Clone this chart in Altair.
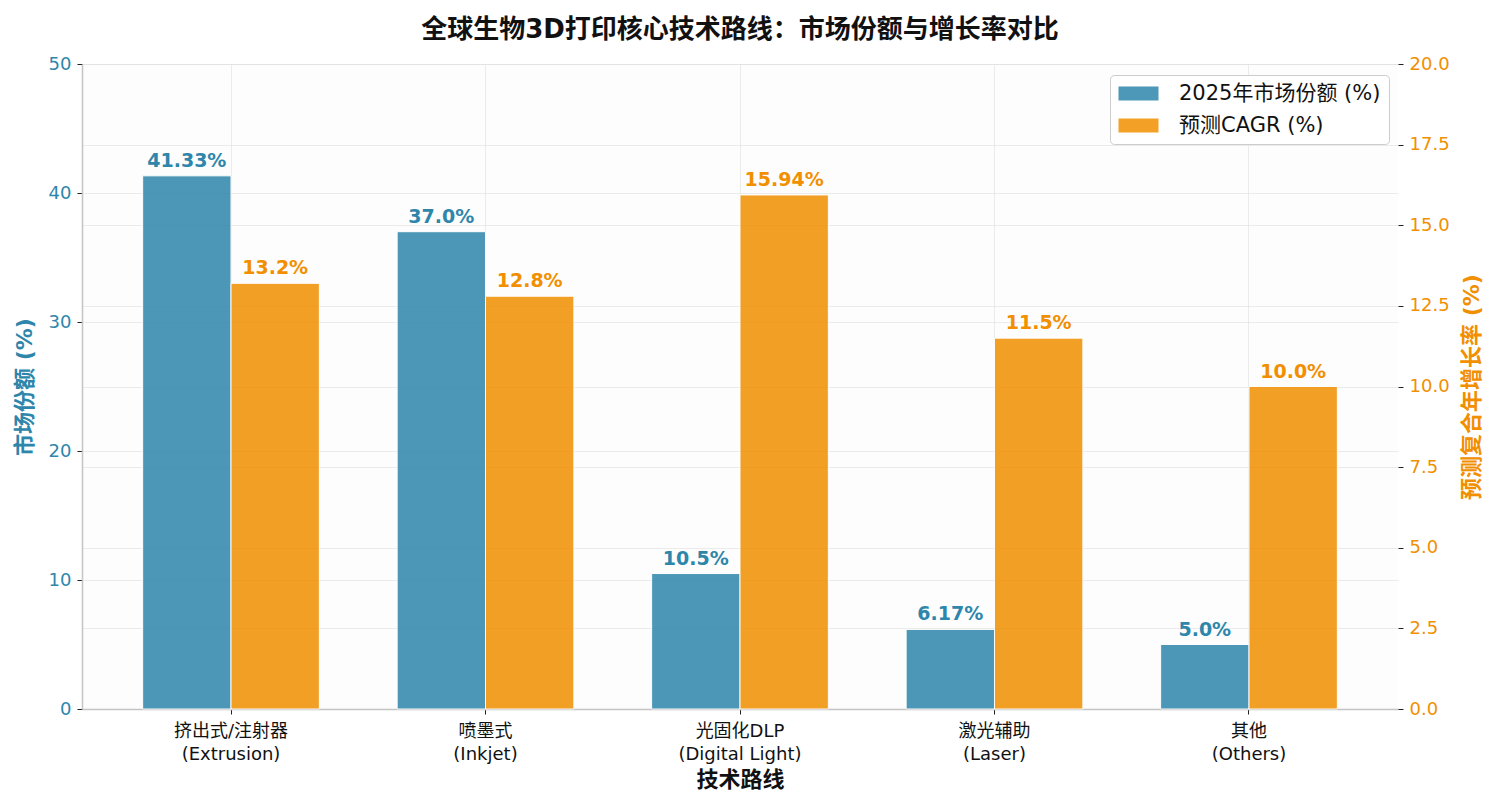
import altair as alt
import pandas as pd

cats_zh = ["挤出式/注射器", "喷墨式", "光固化DLP", "激光辅助", "其他"]
cats_en = ["(Extrusion)", "(Inkjet)", "(Digital Light)", "(Laser)", "(Others)"]
share = [41.33, 37.0, 10.5, 6.17, 5.0]
cagr = [13.2, 12.8, 15.94, 11.5, 10.0]
series_names = ["2025年市场份额 (%)", "预测CAGR (%)"]
colors = ["#2E86AB", "#F18F01"]
left_ticks = [0, 10, 20, 30, 40, 50]
right_ticks = [0, 2.5, 5, 7.5, 10, 12.5, 15, 17.5, 20]

cats = [f"{z}|{e}" for z, e in zip(cats_zh, cats_en)]
rows = []
for c, s, g in zip(cats, share, cagr):
    rows.append({"cat": c, "series": series_names[0], "value": s, "label": f"{s}%"})
    rows.append({"cat": c, "series": series_names[1], "value": g, "label": f"{g}%"})
df = pd.DataFrame(rows)

LATIN = "DejaVu Sans, Noto Sans CJK SC"
CJK = "Noto Sans CJK SC"

x_enc = alt.X(
    "cat:N",
    sort=cats,
    scale=alt.Scale(paddingInner=0, paddingOuter=0.0855),
    axis=alt.Axis(
        title="技术路线",
        labelExpr="split(datum.label, '|')",
        labelAngle=0,
        labelFont=LATIN,
        labelFontSize=18,
        labelColor="#111111",
        labelLineHeight=23,
        labelPadding=8,
        titleFont=CJK,
        titleFontSize=22,
        titleFontWeight="bold",
        titleColor="#111111",
        titlePadding=6,
        domainColor="#c4c4c4",
        domainWidth=1.5,
        tickColor="#222222",
        tickSize=5,
        grid=True,
    ),
)
xo_enc = alt.XOffset(
    "series:N",
    scale=alt.Scale(domain=series_names, paddingInner=0, paddingOuter=0.44),
)
fill_enc = alt.Fill(
    "series:N",
    scale=alt.Scale(domain=series_names, range=colors),
    legend=alt.Legend(
        title=None,
        orient="none",
        legendX=1028,
        legendY=11,
        fillColor="white",
        strokeColor="#cccccc",
        cornerRadius=4,
        padding=8,
        labelFont=LATIN,
        labelFontSize=21,
        labelColor="#111111",
        labelLimit=0,
        labelOffset=30,
        symbolOffset=10,
        symbolType="M-2,-0.7L2,-0.7L2,0.7L-2,0.7Z",
        symbolSize=400,
        symbolOpacity=0.85,
        symbolStrokeWidth=0,
        rowPadding=10,
    ),
)

y_left = alt.Y(
    "value:Q",
    scale=alt.Scale(domain=[0, 50], nice=False),
    axis=alt.Axis(
        values=left_ticks,
        title="市场份额 (%)",
        titleFont=LATIN,
        titleFontSize=22,
        titleFontWeight="bold",
        titleColor="#2E86AB",
        titlePadding=12,
        labelFont=LATIN,
        labelFontSize=18,
        labelColor="#2E86AB",
        labelPadding=6,
        domainColor="#c4c4c4",
        domainWidth=1.5,
        tickColor="#222222",
        tickSize=5,
        grid=True,
    ),
)
y_right = alt.Y(
    "value:Q",
    scale=alt.Scale(domain=[0, 20], nice=False),
    axis=alt.Axis(
        orient="right",
        values=right_ticks,
        format=".1f",
        title="预测复合年增长率 (%)",
        titleFont=LATIN,
        titleFontSize=22,
        titleFontWeight="bold",
        titleColor="#F18F01",
        titleAngle=270,
        titleBaseline="top",
        titlePadding=12,
        labelFont=LATIN,
        labelFontSize=18,
        labelColor="#F18F01",
        labelPadding=6,
        domain=False,
        tickColor="#222222",
        tickSize=5,
        grid=True,
    ),
)

base = alt.Chart(df)

share_data = base.transform_filter(alt.datum.series == series_names[0])
cagr_data = base.transform_filter(alt.datum.series == series_names[1])

bar_kw = dict(opacity=0.85, stroke="white", strokeWidth=1)
text_kw = dict(font="DejaVu Sans", fontSize=19, fontWeight="bold", baseline="bottom", dy=-5)

share_bars = share_data.mark_bar(**bar_kw).encode(x=x_enc, xOffset=xo_enc, y=y_left, fill=fill_enc)
share_text = share_data.mark_text(color="#2E86AB", **text_kw).encode(
    x=x_enc, xOffset=xo_enc, y=y_left, text="label:N"
)
cagr_bars = cagr_data.mark_bar(**bar_kw).encode(x=x_enc, xOffset=xo_enc, y=y_right, fill=fill_enc)
cagr_text = cagr_data.mark_text(color="#F18F01", **text_kw).encode(
    x=x_enc, xOffset=xo_enc, y=y_right, text="label:N"
)

chart = (
    alt.layer(alt.layer(share_bars, share_text), alt.layer(cagr_bars, cagr_text))
    .resolve_scale(y="independent")
    .properties(
        width=1316,
        height=645,
        autosize=alt.AutoSizeParams(type="none"),
        padding={"left": 74, "top": 56, "right": 94, "bottom": 92},
        title=alt.TitleParams(
            "全球生物3D打印核心技术路线：市场份额与增长率对比",
            font=LATIN,
            fontSize=26,
            fontWeight="bold",
            color="#111111",
            anchor="middle",
            offset=12,
        ),
        background="white",
    )
    .configure_view(stroke=None, fill="#fdfdfd")
    .configure_axis(gridColor="#dddddd", gridOpacity=0.55, gridWidth=1, zindex=1)
)

chart.save("out.html", embed_options={"renderer": "svg", "actions": False})
